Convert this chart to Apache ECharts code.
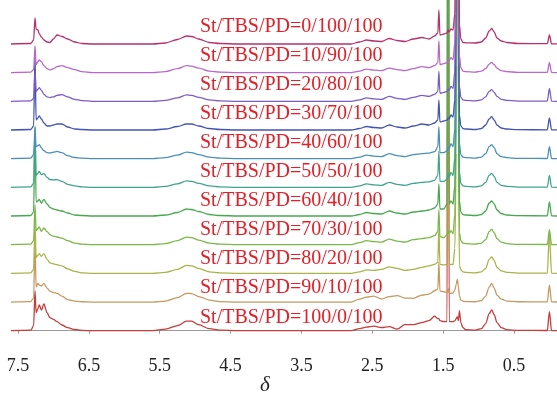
<!DOCTYPE html>
<html>
<head>
<meta charset="utf-8">
<script src="https://cdn.jsdelivr.net/npm/echarts@6/dist/echarts.min.js"></script>
<style>
html,body{margin:0;padding:0;background:#fff;}
#c{width:557px;height:394px;}
</style>
</head>
<body>
<div id="c"></div>
<script>
// chemical shift grid (ppm), shared by all spectra
const ppm = [7.60,7.32,7.28,7.26,7.245,7.22,7.20,7.17,7.135,7.09,7.05,7.00,6.95,6.88,6.80,6.70,6.60,6.45,
  5.60,5.42,5.25,5.12,5.05,4.95,4.80,4.65,4.40,3.50,
  2.80,2.68,2.58,2.48,2.37,2.26,2.15,2.04,1.92,1.80,1.70,1.62,1.575,1.56,1.545,1.49,1.445,1.43,1.415,1.39,1.36,1.335,1.315,1.30,1.285,1.27,1.25,1.22,1.18,1.05,0.96,0.90,0.85,0.815,0.78,0.74,0.68,0.60,0.45,0.03,0.00,-0.03,-0.12];

// intensities (same units as one vertical pixel)
const spec_100_0 = [0,0.5,5,40,18,22,25.7,20.7,26.7,18,13,11.4,9,5.7,3,1.2,0.3,0,
  0,1.5,5,9.5,9.5,6,2,0.5,0,0,
  0,2,3.5,4.5,3,4,1.5,6,6,8,10,14.5,12,12,10,9,9,700,9,9,9,10,12,14,10,20,8,3,1,0.5,2,7,17,20.7,16,8,3,1,0.3,0.2,19,0.2,0];
const spec_90_10 = [0,0.5,4,60,15,18.7,17,16,18.7,14,11,9.5,8.7,6,2.5,1,0.3,0,
  0,1,4.5,8.7,8.5,5.5,2,0.5,0,0,
  0,3,5,6,3,5.5,6.5,4,3.7,7,8,11.3,13,40,11,10.3,9.5,14,9,8.7,9,12,18,22.7,16,6,2,1,0.5,0.3,1.5,6,15,18.7,14,7,3,1,0.3,0.2,17,0.2,0];
const spec_80_20 = [0,0.5,4,50,16,18,19.7,17,19.7,14,10.4,9.5,8.7,7.5,4.5,2,0.5,0,
  0,1,4,8,7.5,5,1.5,0.5,0,0,
  0,1.5,3.5,3,4,6.5,5,3,4,6,7.5,9,11,45,9,8.5,9,700,9,9,8.7,25,120,700,120,8,3.5,1.5,1,0.5,1.5,5,14,16.4,13,6,2.5,1,0.3,0.2,40,0.2,0];
const spec_70_30 = [0,0.5,4,40,14,16,17.7,13.3,16.7,13,10,8.5,7.7,6.5,4,1.5,0.5,0,
  0,1,4,7.5,7,4.5,1.5,0.5,0,0,
  0,2,4,3,2.5,5.5,3.5,2.5,5,6,7,9,13,35,8,7,10,14,11,14,11,30,150,700,150,12,4,1.5,1,0.5,1.5,5,13,15.5,12,6,2.5,1,0.3,0.2,15,0.2,0];
const spec_60_40 = [0,0.5,4,90,14,15,16.7,12.7,16.7,12,8.7,7,6,5,3,1,0.5,0,
  0,1,3.5,7,6.5,4.5,1.5,0.5,0,0,
  0,1.5,3.5,2.5,2,5,3,2,4,5,6,8,12,32,7,7,12,700,12,15,12,30,150,700,150,15,4,1.5,1,0.5,1.5,5,13,15,12,6,2.5,1,0.3,0.2,14,0.2,0];
const spec_50_50 = [0,0.5,4,60,12,14,16,12.7,13.7,10,7.7,7.5,7.7,6,3,1.5,0.5,0,
  0,1,3.5,6.5,6,4,1.5,0.5,0,0,
  0,1.5,3.5,2.5,2,5,3,2,4,5,5.5,7,12,36,6,6,8,14,10,15,12,30,150,700,150,15,4,1.5,1,0.5,1.5,5,12,14,11,5,2,1,0.3,0.2,12,0.2,0];
const spec_40_60 = [0,0.5,4,30,12,13,14,10.7,8,6,5.7,6.5,7.3,6,3,1.2,0.5,0,
  0,1,3.5,6.5,6,4,1.5,0.5,0,0,
  0,1.5,3.5,2.5,2,5,3,2,4,5,5.5,7,12,32,6,6,8,12,10,15,12,30,150,700,150,15,4,1.5,1,0.5,1.5,5,12,14,11,5,2,1,0.3,0.2,12,0.2,0];
const spec_30_70 = [0,0.5,4,75,10,12,14,11,7,4,4,5,6,6,3,1,0.5,0,
  0,1,3.5,6,6,4,1.5,0.5,0,0,
  0,1.5,3.5,2.5,2,5,3,2,4,6,5,7,10,30,8,9,10,12,11,15,13,30,150,700,150,15,4,1.5,1,0.5,1.5,5,11,13.3,10,5,2,1,0.3,0.2,12,0.2,0];
const spec_20_80 = [0,0.5,3,30,10,12,13.7,11,7,4.5,3.7,4.5,6,6.7,4.5,2,0.8,0,
  0,1,3.5,6.5,6,4,1.5,0.5,0,0,
  0,1.5,3.5,2.5,2,5,3,2,4,6,5,7,10,30,8,9,10,12,11,15,13,30,150,700,150,15,4,1.5,1,0.5,1.5,4.5,10,11.7,9,5,2,1,0.3,0.2,13,0.2,0];
const spec_10_90 = [0,0.5,3,27,8,11,12.7,11,7,4,2.7,4,6,7,5,3,1,0,
  0,1,4,7,6.5,4.5,1.5,0.5,0,0,
  0,1.5,3.5,2.5,2,4.5,3,2,4,6,5,7,10,32,8,9,10,13,12,15,13,30,150,700,150,17,5,1.5,1,0.5,1.5,4,8.5,10.3,8,4.5,2,1,0.3,0.2,10,0.2,0];
const spec_0_100 = [0,0.5,4,26,15,14,10,7,4,2,1.5,5,9,7.5,5,2,0.5,0,
  0,1,4.5,8,7.5,5,1.5,0.5,0,0,
  0,2,4,3,2.5,5.5,3.5,2.5,5,6.5,5,8,11,34,9,10,11,14,12,15,14,30,150,700,150,19,5,1.5,1.2,1,2,6,13,15.5,12,6,3,1.5,0.5,0.3,9,0.2,0];

// bottom to top
const spectra = [spec_100_0,spec_90_10,spec_80_20,spec_70_30,spec_60_40,spec_50_50,spec_40_60,spec_30_70,spec_20_80,spec_10_90,spec_0_100];
const labels = ["St/TBS/PD=100/0/100","St/TBS/PD=90/10/100","St/TBS/PD=80/20/100","St/TBS/PD=70/30/100","St/TBS/PD=60/40/100","St/TBS/PD=50/50/100","St/TBS/PD=40/60/100","St/TBS/PD=30/70/100","St/TBS/PD=20/80/100","St/TBS/PD=10/90/100","St/TBS/PD=0/100/100"];
const colors = ['#c83c3c','#c49a60','#a8b448','#7ab848','#48a850','#40a48c','#4a90b8','#4454b0','#7a5cc8','#b868c8','#b4326e'];
const tickVals = [7.5,6.5,5.5,4.5,3.5,2.5,1.5,0.5];
const stackOffset = 28.67;

const chart = echarts.init(document.getElementById('c'), null, {renderer:'canvas'});
const series = spectra.map((vals,i)=>({
  type:'line',
  name: labels[i],
  data: ppm.map((p,k)=>[p, vals[k] + i*stackOffset]),
  showSymbol:false, symbol:'none',
  smooth:0.3, smoothMonotone:'x',
  clip:true,
  lineStyle:{width:1.3,color:colors[i]},
  silent:true,
  z: 2 + i
}));

const serif = "'Liberation Serif','Times New Roman',serif";
const graphic = labels.map((t,i)=>{
  const k = labels.length-1-i; // position from top
  return {type:'text', x:200, y:26.3 + k*29.1, style:{text:t, font:'20px '+serif, fill:'#e41e26', verticalAlign:'middle', align:'left'}, z:100};
});
graphic.push({type:'text', x:265, y:385, style:{text:'δ', font:'italic 21px '+serif, fill:'#222', align:'center', verticalAlign:'middle'}});

chart.setOption({
  animation:false,
  grid:{left:12,right:0,top:0,bottom:49},
  xAxis:{
    type:'value', min:-0.107, max:7.585, inverse:true,
    axisLine:{show:true,lineStyle:{color:'#9a9a9a',width:1}},
    axisTick:{show:true,length:3,customValues:tickVals,lineStyle:{color:'#9a9a9a'}},
    axisLabel:{customValues:tickVals,formatter:v=>v.toFixed(1),color:'#222',fontFamily:serif,fontSize:18,margin:12},
    splitLine:{show:false}
  },
  yAxis:{type:'value',min:-14.3,max:330.7,show:false,splitLine:{show:false}},
  series: series,
  graphic: graphic
});
</script>
</body>
</html>
